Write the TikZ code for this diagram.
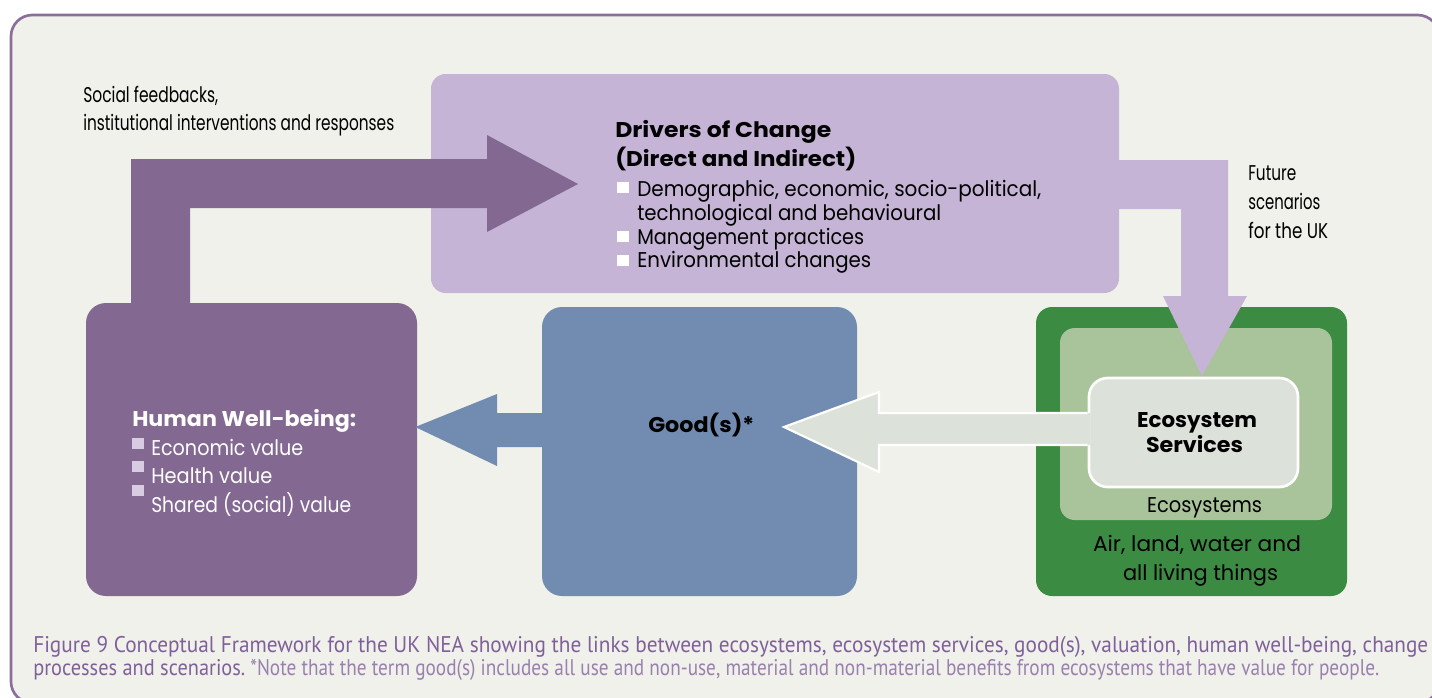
\documentclass[tikz,border=0pt]{standalone}
\usepackage{fontspec}
\setmainfont{Poppins}
\newfontfamily\capfont{PT Sans}
\usepackage{graphicx}
\usetikzlibrary{calc}
\newdimen\pxu \pxu=0.75pt
\newcommand\tw[2]{\resizebox{#1\pxu}{\height}{#2}}
\definecolor{bgc}{HTML}{EFF1EA}
\definecolor{framec}{HTML}{8B6E9C}
\definecolor{dpurple}{HTML}{836892}
\definecolor{lav}{HTML}{C5B4D6}
\definecolor{bluec}{HTML}{718CB0}
\definecolor{dgreen}{HTML}{3C8B43}
\definecolor{lgreen}{HTML}{A9C39B}
\definecolor{esfill}{HTML}{DCE2D9}
\definecolor{bullhw}{HTML}{D8CCE2}
\definecolor{capc}{HTML}{80609A}
\tikzset{
  box/.style={rectangle, inner sep=0pt, draw=none},
  txt/.style={inner sep=0pt, font=\fontsize{16}{19}\selectfont},
  btxt/.style={inner sep=0pt, font=\fontsize{16}{19}\selectfont\bfseries},
  captxt/.style={inner sep=0pt, text=capc, font=\capfont\fontsize{17}{20}\selectfont},
}
\begin{document}
\begin{tikzpicture}[x=0.75pt,y=-0.75pt]
\useasboundingbox (0,0) rectangle (1432,697);
\clip (0,0) rectangle (1432,697);
% frame
\draw[framec, line width=2pt, fill=bgc, rounded corners=16pt] (11,15) rectangle (1439,703);

% Drivers box
\node[box, fill=lav, rounded corners=11pt, minimum width=516pt, minimum height=164.25pt] (drivers) at (775,183.5) {};

% feedback arrow (purple)
\fill[dpurple] (131,320) -- (131,159) -- (487,159) -- (487,135) -- (578,184) -- (487,232) -- (487,208) -- (190,208) -- (190,320) -- cycle;

% Human well-being box
\node[box, fill=dpurple, rounded corners=15pt, minimum width=248.25pt, minimum height=219.75pt] (hwb) at (251.5,449.5) {};
% Goods box
\node[box, fill=bluec, rounded corners=15pt, minimum width=236.25pt, minimum height=216.75pt] (goods) at (699.5,451.5) {};
% Ecosystem boxes
\node[box, fill=dgreen, rounded corners=12pt, minimum width=233.25pt, minimum height=216.75pt] (eco) at (1191.5,451.5) {};
\node[box, fill=lgreen, rounded corners=11pt, minimum width=204pt, minimum height=144pt] (ecos) at (1196,424) {};
\node[box, fill=esfill, draw=white, line width=2pt, rounded corners=14pt, minimum width=156.75pt, minimum height=81.75pt] (es) at (1193.5,432.5) {};

% future scenarios arrow (lavender)
\fill[lav] ($(drivers.east |- 0,160)+(-8,0)$) -- (1228,160) -- (1228,296) -- (1247,296) -- (1202,376) -- (1163,296) -- (1181,296) -- (1181,209) -- ($(drivers.east |- 0,209)+(-8,0)$) -- cycle;

% blue arrow goods -> human well-being
\fill[bluec] ($(goods.west |- 0,413)+(4,0)$) -- (497,413) -- (497,394) -- ($(hwb.east |- 0,427)+(-2,0)$) -- (497,466) -- (497,447) -- ($(goods.west |- 0,447)+(4,0)$) -- cycle;

% light arrow ecosystem services -> goods
\fill[esfill] ($(es.west |- 0,413)+(3,0)$) -- (879,413) -- (879,392) -- (784,427) -- (879,472) -- (879,445) -- ($(es.west |- 0,445)+(3,0)$) -- cycle;
\draw[white, line width=1.6pt, line join=miter] (es.west |- 0,413) -- (879,413) -- (879,392) -- (784,427) -- (879,472) -- (879,445) -- (es.west |- 0,445);

% top-left text
\node[txt, anchor=base west] (sf1) at (83,102) {\tw{135}{Social feedbacks,}};
\node[txt, anchor=base west] (sf2) at (83,130) {\tw{311}{institutional interventions and responses}};

% drivers text
\node[btxt, anchor=base west] (dt1) at (615,137) {\tw{216}{Drivers of Change}};
\node[btxt, anchor=base west] (dt2) at (615,166) {\tw{241}{(Direct and Indirect)}};
\node[txt, anchor=base west] (di1) at (637,196) {\tw{404}{Demographic, economic, socio-political,}};
\node[txt, anchor=base west] (di2) at (637,220) {\tw{304}{technological and behavioural}};
\node[txt, anchor=base west] (di3) at (637,244) {\tw{227}{Management practices}};
\node[txt, anchor=base west] (di4) at (637,267) {\tw{234}{Environmental changes}};
\fill[white] (617,182) rectangle (629,193);
\fill[white] (617,231) rectangle (629,242);
\fill[white] (617,255) rectangle (629,266);

% future scenarios text
\node[txt, anchor=base west] (fs1) at (1248,180) {\tw{48}{Future}};
\node[txt, anchor=base west] (fs2) at (1248,209) {\tw{72}{scenarios}};
\node[txt, anchor=base west] (fs3) at (1248,238) {\tw{80}{for the UK}};

% human well-being text
\node[btxt, text=white, anchor=base west] (hw0) at (132,426) {\tw{224}{Human Well-being:}};
\node[txt, text=white, anchor=base west] (hw1) at (151,455) {\tw{152}{Economic value}};
\node[txt, text=white, anchor=base west] (hw2) at (151,483) {\tw{121}{Health value}};
\node[txt, text=white, anchor=base west] (hw3) at (151,512) {\tw{200}{Shared (social) value}};
\fill[bullhw] (132,438) rectangle (144,449);
\fill[bullhw] (132,461) rectangle (144,472);
\fill[bullhw] (132,485) rectangle (144,496);

% goods text
\node[btxt, anchor=base west] (gt) at (648,432) {\tw{106}{Good(s)*}};

% ecosystem texts
\node[btxt, anchor=base] (es1) at (1197,427) {\tw{120}{Ecosystem}};
\node[btxt, anchor=base] (es2) at (1194.5,452) {\tw{97}{Services}};
\node[txt, anchor=base] (ec1) at (1204.5,512) {\tw{115}{Ecosystems}};
\node[txt, anchor=base] (al1) at (1197,551) {\tw{208}{Air, land, water and}};
\node[txt, anchor=base] (al2) at (1200.5,580) {\tw{155}{all living things}};

% caption
\node[captxt, anchor=base west] (cap1) at (33,652) {\tw{1395}{Figure 9 Conceptual Framework for the UK NEA showing the links between ecosystems, ecosystem services, good(s), valuation, human well-being, change}};
\node[captxt, anchor=base west] (cap2) at (33,675) {\tw{212}{processes and scenarios.}};
\node[captxt, text=capc!80!white, anchor=base west] (cap3) at (250,675) {\tw{1129}{*Note that the term good(s) includes all use and non-use, material and non-material benefits from ecosystems that have value for people.}};
\end{tikzpicture}
\end{document}
